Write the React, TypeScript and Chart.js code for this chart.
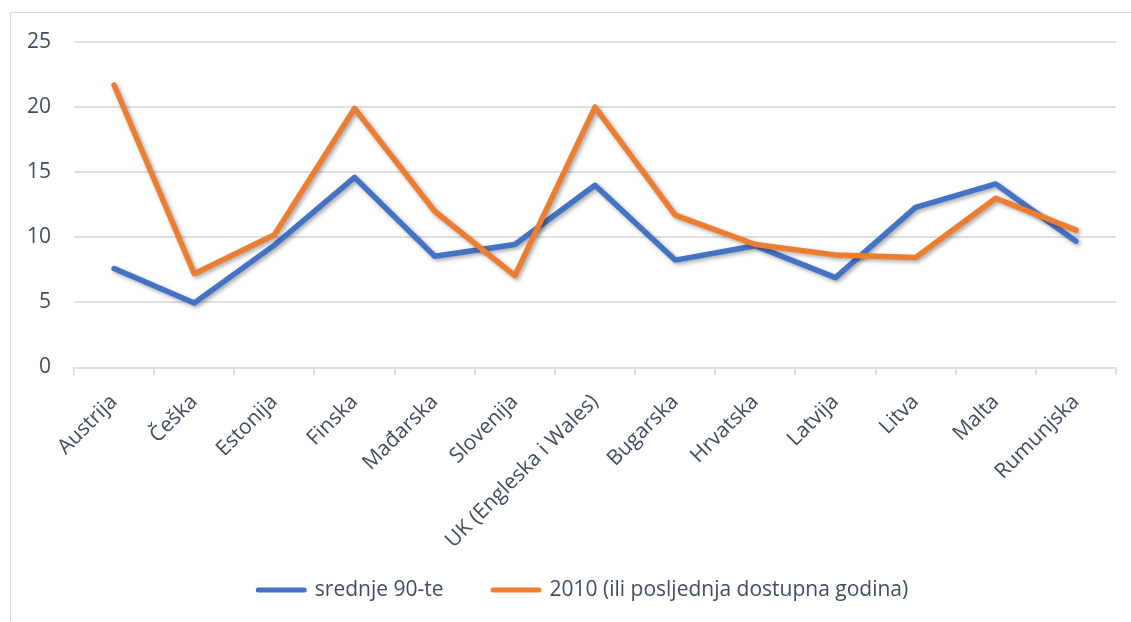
import React, { useEffect, useRef } from "react";
import { Chart, registerables } from "chart.js";

Chart.register(...registerables);

const categories = [
  "Austrija",
  "Češka",
  "Estonija",
  "Finska",
  "Mađarska",
  "Slovenija",
  "UK (Engleska i Wales)",
  "Bugarska",
  "Hrvatska",
  "Latvija",
  "Litva",
  "Malta",
  "Rumunjska",
];
const seriesNinetiesLabel = "srednje 90-te";
const seriesNineties = [7.6, 4.95, 9.4, 14.6, 8.55, 9.45, 14.0, 8.25, 9.35, 6.9, 12.3, 14.1, 9.7];
const series2010Label = "2010 (ili posljednja dostupna godina)";
const series2010 = [21.7, 7.2, 10.2, 19.9, 12.0, 7.05, 20.0, 11.7, 9.45, 8.65, 8.45, 13.0, 10.55];
const yMin = 0;
const yMax = 25;
const yStep = 5;

const BLUE = "#4472C4";
const ORANGE = "#ED7D31";
const TEXT = "#404D62";
const GRID = "#DDE1E7";
const FONT = "'Open Sans', sans-serif";

const W = 1131;
const H = 622;

const LEGEND_Y = 590;
const LEGEND_CENTER_X = 582;
const LEGEND_SWATCH_W = 51;
const LEGEND_SWATCH_H = 5;
const LEGEND_TEXT_GAP = 8;
const LEGEND_ITEM_GAP = 47;
const LEGEND_FONT = 21;

const shadowPlugin = {
  id: "lineShadow",
  beforeDatasetDraw(chart: any) {
    const ctx = chart.ctx;
    ctx.save();
    ctx.shadowColor = "rgba(0,0,0,0.35)";
    ctx.shadowBlur = 4;
    ctx.shadowOffsetX = 2;
    ctx.shadowOffsetY = 2;
  },
  afterDatasetDraw(chart: any) {
    chart.ctx.restore();
  },
};

// legend in the style of the reference (wide gap between the two entries)
const bottomLegendPlugin = {
  id: "bottomLegend",
  afterDraw(chart: any) {
    const ctx = chart.ctx;
    const ds = chart.data.datasets;
    ctx.save();
    ctx.font = `${LEGEND_FONT}px ${FONT}`;
    ctx.textBaseline = "middle";
    ctx.textAlign = "left";
    const widths = ds.map(
      (d: any) => LEGEND_SWATCH_W + LEGEND_TEXT_GAP + ctx.measureText(d.label).width
    );
    const total =
      widths.reduce((a: number, b: number) => a + b, 0) + LEGEND_ITEM_GAP * (ds.length - 1);
    let x = LEGEND_CENTER_X - total / 2;
    ds.forEach((d: any, i: number) => {
      ctx.strokeStyle = d.borderColor;
      ctx.lineWidth = LEGEND_SWATCH_H;
      ctx.lineCap = "round";
      ctx.beginPath();
      ctx.moveTo(x + LEGEND_SWATCH_H / 2, LEGEND_Y);
      ctx.lineTo(x + LEGEND_SWATCH_W - LEGEND_SWATCH_H / 2, LEGEND_Y);
      ctx.stroke();
      ctx.fillStyle = TEXT;
      ctx.fillText(d.label, x + LEGEND_SWATCH_W + LEGEND_TEXT_GAP, LEGEND_Y);
      x += widths[i] + LEGEND_ITEM_GAP;
    });
    ctx.restore();
  },
};

export default function App() {
  const ref = useRef<HTMLCanvasElement | null>(null);

  useEffect(() => {
    document.body.style.margin = "0";
    document.body.style.overflow = "hidden";
    const canvas = ref.current;
    if (!canvas) return;
    const chart = new Chart(canvas, {
      type: "line",
      data: {
        labels: categories,
        datasets: [
          {
            label: seriesNinetiesLabel,
            data: seriesNineties,
            borderColor: BLUE,
            backgroundColor: BLUE,
            borderWidth: 5.5,
            pointRadius: 0,
            pointHoverRadius: 0,
            tension: 0,
            borderCapStyle: "round",
            borderJoinStyle: "round",
            order: 1,
          },
          {
            label: series2010Label,
            data: series2010,
            borderColor: ORANGE,
            backgroundColor: ORANGE,
            borderWidth: 5.5,
            pointRadius: 0,
            pointHoverRadius: 0,
            tension: 0,
            borderCapStyle: "round",
            borderJoinStyle: "round",
            order: 0,
          },
        ],
      },
      options: {
        responsive: false,
        animation: false,
        events: [],
        layout: { padding: { top: 42, right: 15, bottom: 0, left: 0 } },
        scales: {
          x: {
            type: "category",
            offset: true,
            grid: {
              offset: true,
              drawOnChartArea: false,
              drawTicks: true,
              tickLength: 7,
              color: GRID,
              lineWidth: 2,
            },
            border: { display: true, color: GRID, width: 2 },
            ticks: {
              color: TEXT,
              font: { family: FONT, size: 21 },
              minRotation: 45,
              maxRotation: 45,
              autoSkip: false,
              padding: 15,
            },
            afterFit(scale: any) {
              scale.height = 254.5;
            },
          },
          y: {
            min: yMin,
            max: yMax,
            border: { display: false },
            grid: { color: GRID, lineWidth: 2, drawTicks: false },
            ticks: {
              stepSize: yStep,
              color: TEXT,
              font: { family: FONT, size: 21 },
              padding: 23,
            },
            afterFit(scale: any) {
              scale.width = 74;
            },
          },
        },
        plugins: {
          legend: { display: false },
          tooltip: { enabled: false },
        },
      },
      plugins: [shadowPlugin, bottomLegendPlugin],
    } as any);
    return () => chart.destroy();
  }, []);

  return (
    <div
      style={{
        position: "fixed",
        left: 0,
        top: 0,
        width: W,
        height: H,
        overflow: "hidden",
        background: "#fff",
      }}
    >
      <div
        style={{
          position: "absolute",
          left: 10,
          top: 12,
          width: 1140,
          height: 640,
          border: "1px solid #D9DDE3",
          boxSizing: "border-box",
        }}
      />
      <canvas
        ref={ref}
        width={W}
        height={H}
        style={{ position: "absolute", left: 0, top: 0, width: W, height: H }}
      />
    </div>
  );
}
